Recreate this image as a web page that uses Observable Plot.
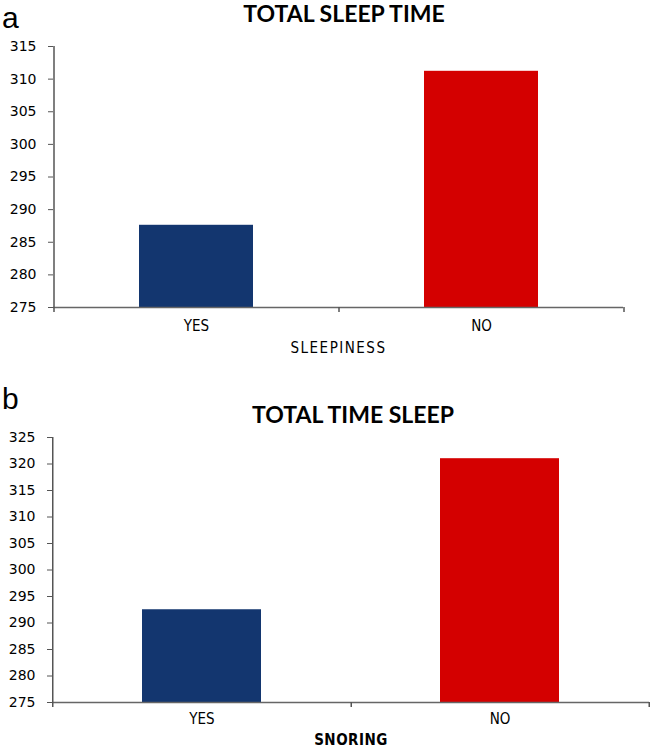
<!DOCTYPE html>
<html>
<head>
<meta charset="utf-8">
<script src="https://cdn.jsdelivr.net/npm/d3@7"></script>
<script src="https://cdn.jsdelivr.net/npm/@observablehq/plot@0.6"></script>
<style>
  html, body { margin: 0; padding: 0; background: #fff; }
  #wrap { position: relative; width: 650px; height: 750px; overflow: hidden; background: #fff; }
  .panel { position: absolute; left: 0; z-index: 1; }
  .letter { position: absolute; left: 2px; font-family: "Liberation Sans", Arial, sans-serif; font-size: 30px; color: #000; line-height: 1.2; z-index: 2; }
  .title { position: absolute; font-family: Lato, "Open Sans", sans-serif; font-weight: 700; font-size: 23px; color: #000; white-space: nowrap; transform: translateX(-50%); line-height: 1.2; z-index: 2; }
  svg g[aria-label="y-axis tick"] path, svg g[aria-label="y-axis tick"] line { stroke: #555; }
  svg g[aria-label="x-axis tick label"] text { font-family: "DejaVu Sans Condensed", "DejaVu Sans", sans-serif; font-size: 15px; }
  svg g[aria-label="x-axis label"] text { font-family: "DejaVu Sans Condensed", "DejaVu Sans", sans-serif; font-size: 15px; letter-spacing: 1.5px; }
</style>
</head>
<body>
<div id="wrap">
  <div class="letter" style="top:0px;">a</div>
  <div class="title" id="titleA" style="left:344px; top:0px;">TOTAL SLEEP TIME</div>
  <div class="panel" id="panelA" style="top:30px;"></div>
  <div class="letter" style="top:381px;">b</div>
  <div class="title" id="titleB" style="left:353px; top:401px;">TOTAL TIME SLEEP</div>
  <div class="panel" id="panelB" style="top:420px;"></div>
</div>
<script>
// ---- data ----
const categoriesA = ["YES", "NO"];
const valuesA = [287.6, 311.2];
const ticksA = [275, 280, 285, 290, 295, 300, 305, 310, 315];
const xLabelA = "SLEEPINESS";

const categoriesB = ["YES", "NO"];
const valuesB = [292.5, 321.0];
const ticksB = [275, 280, 285, 290, 295, 300, 305, 310, 315, 320, 325];
const xLabelB = "SNORING";

const barColors = ["#13366F", "#D40000"];

function panel(categories, values, ticks, xLabel, opts) {
  const data = categories.map((c, i) => ({cat: c, value: values[i]}));
  const W = 650;
  const plotW = W - opts.marginLeft - opts.marginRight;
  const halfStep = plotW / 4;
  const plotH = opts.height - opts.marginTop - opts.marginBottom;
  const base = ticks[0];
  return Plot.plot({
    width: W,
    height: opts.height,
    marginLeft: opts.marginLeft,
    marginRight: opts.marginRight,
    marginTop: opts.marginTop,
    marginBottom: opts.marginBottom,
    style: {fontFamily: "'DejaVu Sans', Verdana, sans-serif", fontSize: "14px", color: "#000", background: "transparent", overflow: "visible"},
    x: {
      type: "band",
      domain: categories,
      paddingInner: 0.6,
      paddingOuter: 0.3,
      tickSize: 0,
      tickPadding: opts.xTickPadding,
      label: xLabel,
      labelAnchor: "center",
      labelOffset: opts.labelOffset
    },
    y: {
      domain: [ticks[0], ticks[ticks.length - 1]],
      ticks: ticks,
      tickSize: 5,
      tickPadding: 12,
      tickFormat: d => String(d),
      label: null
    },
    color: {domain: categories, range: barColors},
    marks: [
      Plot.barY(data, {x: "cat", y1: base, y2: "value", fill: "cat"}),
      Plot.ruleY([base], {stroke: "#666", strokeWidth: 1.5}),
      // left axis line (extends slightly below the x-axis)
      Plot.ruleX([categories[0]], {dx: -halfStep, stroke: "#555", strokeWidth: 1.5, insetBottom: -5}),
      // category boundary ticks below the x-axis
      Plot.ruleX(categories, {dx: halfStep, stroke: "#555", strokeWidth: 1.5, insetTop: plotH, insetBottom: -5})
    ]
  });
}

const a = panel(categoriesA, valuesA, ticksA, xLabelA, {
  height: 330, marginLeft: 53, marginRight: 27, marginTop: 16, marginBottom: 53,
  xTickPadding: 13, labelOffset: 45
});
document.getElementById("panelA").appendChild(a);

const b = panel(categoriesB, valuesB, ticksB, xLabelB, {
  height: 330, marginLeft: 52, marginRight: 1, marginTop: 17, marginBottom: 48,
  xTickPadding: 11, labelOffset: 42
});
document.getElementById("panelB").appendChild(b);
// bold axis label for panel b
b.querySelectorAll('g[aria-label="x-axis label"] text').forEach(t => { t.setAttribute("font-weight", "bold"); t.style.letterSpacing = "0.5px"; });
</script>
</body>
</html>
